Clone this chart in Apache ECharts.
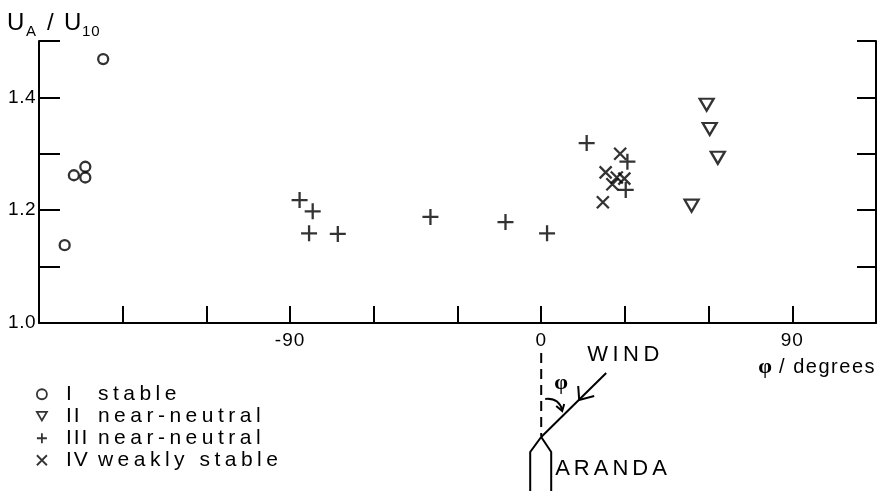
<!DOCTYPE html>
<html><head><meta charset="utf-8">
<script src="https://cdn.jsdelivr.net/npm/echarts@6/dist/echarts.min.js"></script>
<style>html,body{margin:0;padding:0;background:#fff}#c{width:881px;height:491px}</style>
</head><body><div id="c"></div>
<script>
// Letter-spacing helper: a family marker "lsN" in the font list sets N/10 px tracking.
(function(){
  var P = window.CanvasRenderingContext2D && CanvasRenderingContext2D.prototype;
  if (!P || !('letterSpacing' in P)) return;
  var ft = P.fillText, st = P.strokeText, mt = P.measureText;
  function sp(ctx){ var m = /\bls(\d+)\b/.exec(ctx.font || ''); ctx.letterSpacing = (m ? (+m[1]) / 10 : 0) + 'px'; }
  P.fillText = function(){ sp(this); return ft.apply(this, arguments); };
  P.strokeText = function(){ sp(this); return st.apply(this, arguments); };
  P.measureText = function(){ sp(this); return mt.apply(this, arguments); };
})();

// ---- data ----
const xMin = -180, xMax = 120, xInterval = 30;
const xTickLabels = [-90, 0, 90];
const yMin = 1.0, yMax = 1.5, yInterval = 0.1;
const yTickLabels = ['1.0', '1.2', '1.4'];

const seriesNumerals = ['I', 'II', 'III', 'IV'];
const seriesLabels = ['stable', 'near-neutral', 'near-neutral', 'weakly stable'];

const stablePhi = [-157.0, -167.5, -163.4, -163.4, -170.8];
const stableU   = [1.468, 1.262, 1.277, 1.258, 1.138];

const nearNeutralIIPhi = [59.3, 60.4, 63.3, 53.9];
const nearNeutralIIU   = [1.387, 1.344, 1.293, 1.208];

const nearNeutralIIIPhi = [-86.6, -81.9, -83.2, -72.9, -39.7, -12.8, 2.1, 16.3, 30.9, 30.3];
const nearNeutralIIIU   = [1.218, 1.198, 1.159, 1.158, 1.188, 1.179, 1.159, 1.319, 1.286, 1.236];

const weaklyStablePhi = [28.3, 23.1, 27.1, 29.8, 25.5, 22.1];
const weaklyStableU   = [1.300, 1.267, 1.258, 1.256, 1.246, 1.214];

// ---- build ----
const zip = (a, b) => a.map((v, i) => [v, b[i]]);
const seriesNames = seriesNumerals.map((n, i) => n + ' ' + seriesLabels[i]);
const SANS = "'Liberation Sans', Arial, sans-serif";
const spFont = n => "'Liberation Sans', ls" + n + ", Arial, sans-serif";
const mk = {color: 'rgba(0,0,0,0)', borderColor: '#000', borderWidth: 2.3};
const symCircle = 'circle';
const symTri = 'path://M0,0L14,0L7,12Z';
const symPlus = 'path://M7,0L7,14M0,7L14,7';
const symX = 'path://M0,0L10,10M10,0L0,10';
const symbols = [symCircle, symTri, symPlus, symX];
const sizes = [10, [14, 12], 16, 12];
const datasets = [zip(stablePhi, stableU), zip(nearNeutralIIPhi, nearNeutralIIU),
                  zip(nearNeutralIIIPhi, nearNeutralIIIU), zip(weaklyStablePhi, weaklyStableU)];
const legendRowY = [392, 414, 436, 458];

const chart = echarts.init(document.getElementById('c'), null, {renderer: 'canvas'});
const axisLine = {show: true, onZero: false, lineStyle: {color: '#000', width: 2}};
chart.setOption({
  animation: false,
  backgroundColor: '#fff',
  grid: {left: 39, right: 5, top: 41, bottom: 168, containLabel: false},
  xAxis: {
    type: 'value', min: xMin, max: xMax, interval: xInterval,
    axisLine: axisLine,
    axisTick: {show: true, inside: true, length: 17, lineStyle: {color: '#000', width: 2}},
    splitLine: {show: false},
    axisLabel: {show: true, margin: 8, color: '#000', fontSize: 19, fontFamily: spFont(10),
      formatter: v => xTickLabels.indexOf(Math.round(v)) >= 0 ? String(Math.round(v)) : ''}
  },
  yAxis: [{
    type: 'value', position: 'left', min: yMin, max: yMax, interval: yInterval,
    axisLine: axisLine,
    axisTick: {show: true, inside: true, length: 21, lineStyle: {color: '#000', width: 2}},
    splitLine: {show: false},
    axisLabel: {show: true, margin: 3, color: '#000', fontSize: 19, fontFamily: spFont(5),
      formatter: v => { const s = (+v).toFixed(1); return yTickLabels.indexOf(s) >= 0 ? s : ''; }}
  }, {
    type: 'value', position: 'right', min: yMin, max: yMax, interval: yInterval,
    axisLine: axisLine,
    axisTick: {show: true, inside: true, length: 19, lineStyle: {color: '#000', width: 2}},
    splitLine: {show: false},
    axisLabel: {show: false}
  }],
  legend: seriesNames.map((n, i) => ({
    orient: 'vertical', left: 36, top: legendRowY[i] - 10.5, padding: 0,
    itemWidth: 10, itemHeight: 10, itemGap: 0, selectedMode: false,
    data: [{name: n, icon: symbols[i], itemStyle: {color: 'rgba(0,0,0,0)', borderColor: '#000', borderWidth: 1.8}}],
    formatter: name => { const k = seriesNames.indexOf(name); return '{a|' + seriesNumerals[k] + '}{b|' + seriesLabels[k] + '}'; },
    textStyle: {color: '#000', lineHeight: 21, rich: {
      a: {fontSize: 21, fontFamily: spFont(20), color: '#000', width: 32, padding: [0, 0, 0, 14], lineHeight: 21},
      b: {fontSize: 21, fontFamily: spFont(45), color: '#000', lineHeight: 21}
    }}
  })),
  series: seriesNames.map((n, i) => ({
    type: 'scatter', name: n, data: datasets[i], symbol: symbols[i], symbolSize: sizes[i],
    itemStyle: mk, emphasis: {disabled: true}
  }))
});

const x0 = chart.convertToPixel({xAxisIndex: 0}, 0);
const xR = chart.convertToPixel({xAxisIndex: 0}, xMax);
const ln = {stroke: '#000', lineWidth: 2, fill: null};
chart.setOption({
  graphic: [
    // y axis title U_A / U_10
    {type: 'text', x: 7, y: 23, style: {text: 'U', fontSize: 24, fontFamily: SANS, fill: '#000', textVerticalAlign: 'middle'}},
    {type: 'text', x: 26, y: 32, style: {text: 'A', fontSize: 15, fontFamily: SANS, fill: '#000', textVerticalAlign: 'middle'}},
    {type: 'text', x: 47, y: 23, style: {text: '/', fontSize: 24, fontFamily: SANS, fill: '#000', textVerticalAlign: 'middle'}},
    {type: 'text', x: 64, y: 23, style: {text: 'U', fontSize: 24, fontFamily: SANS, fill: '#000', textVerticalAlign: 'middle'}},
    {type: 'text', x: 82, y: 32, style: {text: '10', fontSize: 15, fontFamily: spFont(10), fill: '#000', textVerticalAlign: 'middle'}},
    // x axis title
    {type: 'text', x: xR, y: 367, style: {text: '{p|φ}{d| / degrees}', textAlign: 'right', textVerticalAlign: 'middle',
      rich: {p: {fontSize: 22, fontWeight: 'bold', fontFamily: "'Liberation Serif', serif", fill: '#000'},
             d: {fontSize: 20, fontFamily: spFont(15), fill: '#000'}}}},
    // wind diagram
    {type: 'line', shape: {x1: x0, y1: 353, x2: x0, y2: 436}, style: {stroke: '#000', lineWidth: 2, lineDash: [10, 6]}},
    {type: 'line', shape: {x1: x0, y1: 437, x2: x0 + 65, y2: 373}, style: ln},
    {type: 'polyline', shape: {points: [[x0 + 37, 386], [x0 + 38, 400], [x0 + 53, 396]]}, style: ln},
    {type: 'bezierCurve', shape: {x1: x0 + 4, y1: 399, cpx1: x0 + 14, cpy1: 398, cpx2: x0 + 19, cpy2: 403, x2: x0 + 21, y2: 410}, style: ln},
    {type: 'polyline', shape: {points: [[x0 + 15, 406], [x0 + 21, 411], [x0 + 23, 404]]}, style: ln},
    {type: 'text', x: x0 + 20, y: 383, style: {text: 'φ', textAlign: 'center', textVerticalAlign: 'middle', fontSize: 22, fontWeight: 'bold', fontFamily: "'Liberation Serif', serif", fill: '#000'}},
    {type: 'text', x: x0 + 46, y: 355, style: {text: 'WIND', textVerticalAlign: 'middle', fontSize: 22, fontFamily: spFont(45), fill: '#000'}},
    {type: 'polyline', shape: {points: [[x0 - 11, 495], [x0 - 11, 452], [x0, 437], [x0 + 10, 452], [x0 + 10, 495]]}, style: ln},
    {type: 'text', x: x0 + 14, y: 469, style: {text: 'ARANDA', textVerticalAlign: 'middle', fontSize: 22, fontFamily: spFont(40), fill: '#000'}}
  ]
});
</script>
</body></html>
